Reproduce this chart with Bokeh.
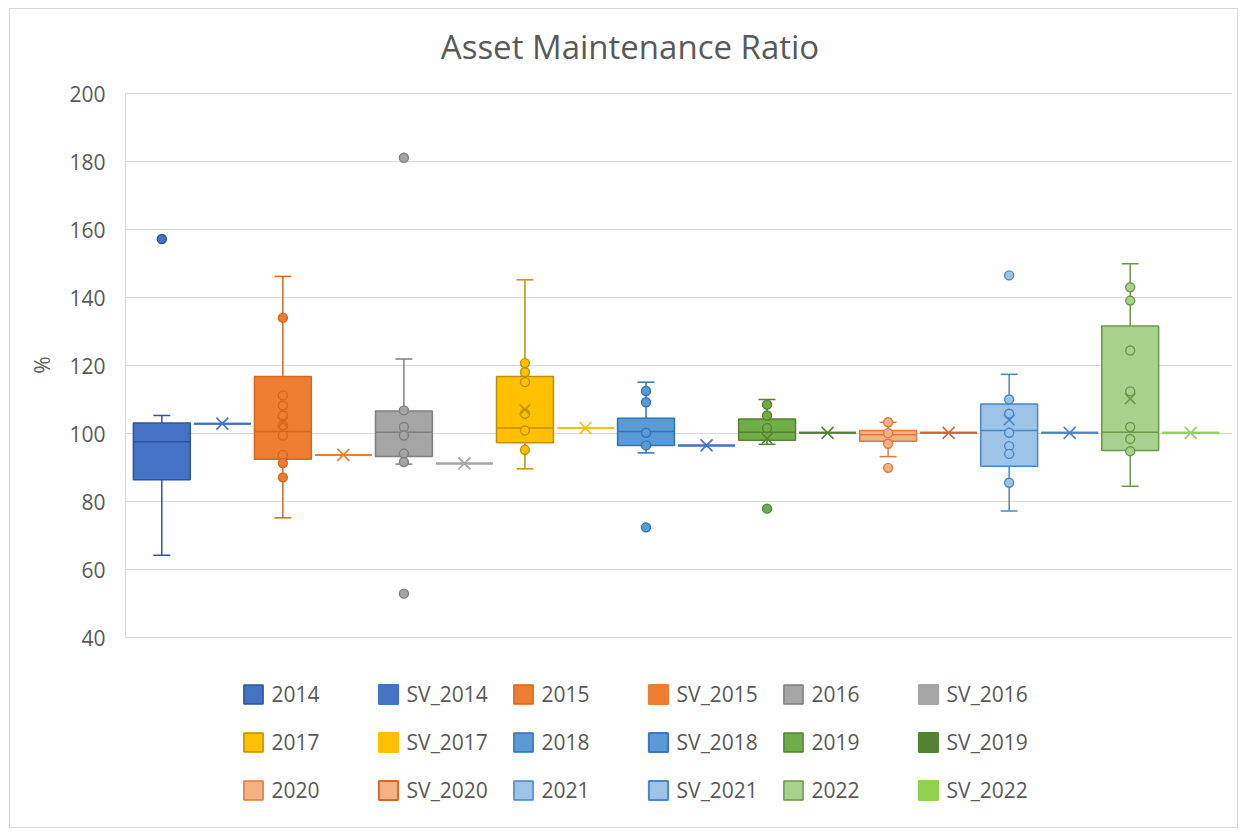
import math
from bokeh.plotting import figure
from bokeh.models import Legend, LegendItem, Range1d, FixedTicker, ColumnDataSource, Label
from bokeh.embed import file_html
from bokeh.resources import INLINE

NaN = float("nan")

title_text = "Asset Maintenance Ratio"
y_label = "%"
years = ["2014", "2015", "2016", "2017", "2018", "2019", "2020", "2021", "2022"]
sv_names = ["SV_" + y for y in years]

q1 = [86.4, 92.4, 93.2, 97.3, 96.5, 98.0, 97.7, 90.4, 95.0]
median = [97.6, 100.6, 100.4, 101.6, 100.6, 100.4, 99.6, 100.9, 100.4]
q3 = [103.1, 116.8, 106.6, 116.8, 104.5, 104.3, 100.9, 108.7, 131.6]
whisker_low = [64.2, 75.2, 91.0, 89.6, 94.3, 96.8, 93.2, 77.2, 84.5]
whisker_high = [105.3, 146.2, 121.9, 145.2, 115.1, 110.0, 103.3, 117.4, 149.9]
mean = [NaN, 103.3, NaN, 107.0, NaN, 98.5, NaN, 104.0, 110.2]
inner_points = [
    [],
    [134.0, 111.2, 108.2, 105.3, 102.4, 99.4, 93.7, 91.3, 87.1],
    [106.8, 101.9, 99.4, 94.1, 91.6],
    [120.7, 118.0, 115.1, 105.8, 100.9, 95.2],
    [112.5, 109.2, 100.2, 96.5],
    [108.5, 105.3, 101.6],
    [103.3, 100.1, 97.0],
    [110.0, 105.8, 100.2, 96.3, 94.0, 85.5],
    [143.0, 139.1, 124.4, 112.4, 101.9, 98.4, 94.8],
]
outliers = [[157.2], [], [181.1, 52.9], [], [72.4], [77.9], [89.9], [146.5], []]
sv_values = [102.9, 93.7, 91.2, 101.6, 96.5, 100.2, 100.2, 100.2, 100.2]
y_ticks = [40, 60, 80, 100, 120, 140, 160, 180, 200]

box_fill = ["#4472C4", "#ED7D31", "#A5A5A5", "#FFC000", "#5B9BD5", "#70AD47", "#F4B183", "#9DC3E6", "#A9D18E"]
box_line = ["#2F5597", "#D8661C", "#7F7F7F", "#C09000", "#2E75B6", "#548235", "#E0793A", "#4A86C8", "#6A9A48"]
sv_fill = ["#4472C4", "#ED7D31", "#A5A5A5", "#FFC000", "#5B9BD5", "#548235", "#F4B183", "#9DC3E6", "#92D050"]
sv_line = ["#4472C4", "#ED7D31", "#A5A5A5", "#FFC000", "#4472C4", "#548235", "#D2692A", "#4A86C8", "#92D050"]

FONT = "Open Sans"
TXT = "#595959"
HALF = 0.47
CAP = 0.14

# The frame spans the whole figure height so that the title and legend (drawn inside the
# frame) are not clipped; the value scale keeps 40..200 on the reference plot-area pixels.
PX_PER_UNIT = 544 / 160.0
Y_HIGH = 200 + (93 - 9) / PX_PER_UNIT
Y_LOW = 40 - (829 - 637) / PX_PER_UNIT
X_LOW, X_HIGH = -0.6, 17.69

p = figure(width=1229, height=820, output_backend="svg", toolbar_location=None,
           x_range=Range1d(X_LOW, X_HIGH), y_range=Range1d(Y_LOW, Y_HIGH),
           x_axis_location=None,
           min_border_left=115, min_border_right=7, min_border_top=0, min_border_bottom=0)
p.styles = {"border": "1px solid #D9D9D9", "margin-left": "9px", "margin-top": "8px"}
p.outline_line_color = None
p.background_fill_color = "white"
p.border_fill_color = "white"

x_per_px = (X_HIGH - X_LOW) / (1232 - 125)
title = Label(x=X_LOW + (629.5 - 125) * x_per_px, y=200 + (93 - 46) / PX_PER_UNIT,
              text=title_text, text_align="center", text_baseline="middle",
              text_font=FONT, text_font_size="33px", text_color=TXT)
p.add_layout(title)

p.xgrid.visible = False
p.ygrid.grid_line_color = "#D9D9D9"
p.ygrid.grid_line_width = 1
p.yaxis.ticker = FixedTicker(ticks=y_ticks)
p.yaxis.bounds = (40, 200)
# the axis label is centred on the whole (tall) frame; leading no-break spaces lift
# the visible "%" to the middle of the 40..200 plot area
p.yaxis.axis_label = "\u00a0" * 20 + y_label
p.yaxis.axis_label_text_font = FONT
p.yaxis.axis_label_text_font_size = "21px"
p.yaxis.axis_label_text_font_style = "normal"
p.yaxis.axis_label_text_color = TXT
p.yaxis.axis_label_standoff = 10
p.yaxis.major_label_text_font = FONT
p.yaxis.major_label_text_font_size = "21px"
p.yaxis.major_label_text_color = TXT
p.yaxis.major_tick_line_color = None
p.yaxis.minor_tick_line_color = None
p.yaxis.major_label_standoff = 14
p.yaxis.axis_line_color = "#D9D9D9"

bx = [2 * i for i in range(len(years))]
sx = [2 * i + 1 for i in range(len(years))]

# SV series (flat boxes)
sv_src = ColumnDataSource(dict(
    left=[x - HALF for x in sx], right=[x + HALF for x in sx],
    top=sv_values, bottom=sv_values, x=sx, v=sv_values,
    fill=sv_fill, line=sv_line))
sv_r = p.quad(left="left", right="right", top="top", bottom="bottom", source=sv_src,
              fill_color="fill", line_color="line", line_width=2)
p.segment(x0="left", y0="v", x1="right", y1="v", source=sv_src, line_color="line", line_width=2)
p.scatter(x="x", y="v", source=sv_src, marker="x", size=17, line_color="line", line_width=1.6)

# Year boxes
box_src = ColumnDataSource(dict(
    x=bx, left=[x - HALF for x in bx], right=[x + HALF for x in bx],
    q1=q1, q3=q3, med=median, lo=whisker_low, hi=whisker_high,
    cl=[x - CAP for x in bx], cr=[x + CAP for x in bx],
    fill=box_fill, line=box_line, mean=mean))
p.segment(x0="x", y0="q3", x1="x", y1="hi", source=box_src, line_color="line", line_width=1.5)
p.segment(x0="x", y0="q1", x1="x", y1="lo", source=box_src, line_color="line", line_width=1.5)
p.segment(x0="cl", y0="hi", x1="cr", y1="hi", source=box_src, line_color="line", line_width=1.5)
p.segment(x0="cl", y0="lo", x1="cr", y1="lo", source=box_src, line_color="line", line_width=1.5)
box_r = p.quad(left="left", right="right", top="q3", bottom="q1", source=box_src,
               fill_color="fill", line_color="line", line_width=1.5)
p.segment(x0="left", y0="med", x1="right", y1="med", source=box_src, line_color="line", line_width=1.5)

px, py, pf, pl = [], [], [], []
for i, x in enumerate(bx):
    for v in inner_points[i] + outliers[i]:
        px.append(x); py.append(v); pf.append(box_fill[i]); pl.append(box_line[i])
p.scatter(x=px, y=py, size=9, marker="circle", fill_color=pf, line_color=pl, line_width=1.4)

mx = [x for x, m in zip(bx, mean) if not math.isnan(m)]
my = [m for m in mean if not math.isnan(m)]
ml = [c for c, m in zip(box_line, mean) if not math.isnan(m)]
p.scatter(x=mx, y=my, marker="x", size=15, line_color=ml, line_width=1.5)

items = []
for i in range(len(years)):
    items.append(LegendItem(label=years[i], renderers=[box_r], index=i))
    items.append(LegendItem(label=sv_names[i], renderers=[sv_r], index=i))

legend = Legend(items=items, orientation="horizontal", ncols=6,
                location=(115.6, 25.5), padding=0, margin=0,
                border_line_color=None, background_fill_alpha=0,
                glyph_width=24, glyph_height=24, label_standoff=7,
                label_width=84, spacing=20,
                label_text_font=FONT, label_text_font_size="21px", label_text_color=TXT)
p.add_layout(legend, "center")

open("out.html", "w").write(file_html(p, INLINE))
